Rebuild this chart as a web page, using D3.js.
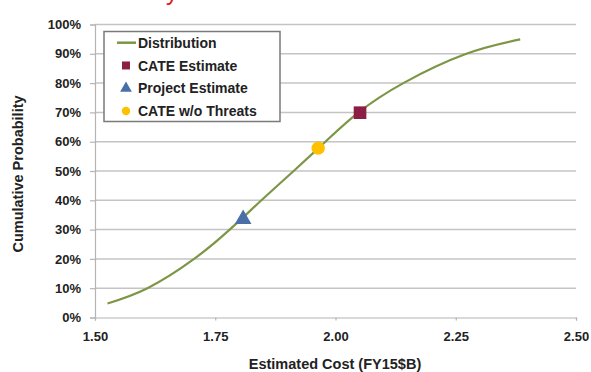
<!DOCTYPE html>
<html>
<head>
<meta charset="utf-8">
<script src="https://cdn.jsdelivr.net/npm/d3@7"></script>
<style>
  body { margin: 0; background: #fff; }
  svg { display: block; }
  text { font-family: "Liberation Sans", Arial, sans-serif; font-weight: bold; fill: #222; }
</style>
</head>
<body>
<div id="vis"><svg></svg></div>
<script>
// cumulative distribution (cost in FY15 $B, probability 0-1)
const distCost = [1.526, 1.609, 1.706, 1.780, 1.846, 1.913, 1.979, 2.048, 2.141, 2.272, 2.384];
const distProb = [0.048, 0.100, 0.200, 0.300, 0.400, 0.500, 0.600, 0.700, 0.800, 0.900, 0.949];

// point estimates
const estNames = ["CATE Estimate", "Project Estimate", "CATE w/o Threats"];
const estCost = [2.051, 1.808, 1.964];
const estProb = [0.699, 0.339, 0.578];

const xTicks = [1.50, 1.75, 2.00, 2.25, 2.50];
const yTicks = [0, 0.1, 0.2, 0.3, 0.4, 0.5, 0.6, 0.7, 0.8, 0.9, 1.0];
const legendLabels = ["Distribution", "CATE Estimate", "Project Estimate", "CATE w/o Threats"];

const w = 591, h = 372;
const margin = {top: 24.5, right: 15, bottom: 54.5, left: 95};
const width = w - margin.left - margin.right;
const height = h - margin.top - margin.bottom;

const lineColor = "#7d9646";
const markColor = {"CATE Estimate": "#8c1d45", "Project Estimate": "#4a6fa8", "CATE w/o Threats": "#ffc000"};
const markShape = {"CATE Estimate": d3.symbolSquare, "Project Estimate": d3.symbolTriangle, "CATE w/o Threats": d3.symbolCircle};

const svg = d3.select("#vis").select("svg")
  .attr("width", w)
  .attr("height", h);

// bit of a cut off red title at the top edge
svg.append("text")
  .attr("x", 166).attr("y", 0)
  .style("font-size", "24px")
  .style("font-weight", "normal")
  .style("fill", "#e0141e")
  .text("y");

const x = d3.scaleLinear().domain([1.5, 2.5]).range([0, width]);
const y = d3.scaleLinear().domain([0, 1]).range([height, 0]);

const g = svg.append("g")
  .attr("transform", `translate(${margin.left},${margin.top})`);

// gridlines
g.selectAll(".gridline")
  .data(yTicks.filter(d => d > 0))
  .enter().append("line")
    .attr("class", "gridline")
    .attr("x1", 0).attr("x2", width)
    .attr("y1", d => y(d)).attr("y2", d => y(d))
    .attr("stroke", "#c4c4c4")
    .attr("stroke-width", 1.5);

// y axis
const yAxis = g.append("g")
  .call(d3.axisLeft(y).tickValues(yTicks).tickFormat(d3.format(".0%")).tickSize(5).tickPadding(9));
yAxis.select(".domain").attr("stroke", "#b4b4b4").attr("stroke-width", 1.2);
yAxis.selectAll(".tick line").attr("stroke", "#b4b4b4").attr("stroke-width", 1.2);
yAxis.selectAll(".tick text")
  .style("font-size", "13px").style("font-family", "Liberation Sans, Arial, sans-serif")
  .style("font-weight", "bold").attr("fill", "#222");

// x axis
const xAxis = g.append("g")
  .attr("transform", `translate(0,${height})`)
  .call(d3.axisBottom(x).tickValues(xTicks).tickFormat(d3.format(".2f")).tickSizeOuter(0).tickSize(3).tickPadding(11));
xAxis.select(".domain").attr("stroke", "#b4b4b4").attr("stroke-width", 1.2);
xAxis.selectAll(".tick line").attr("stroke", "#b4b4b4").attr("stroke-width", 1.2);
xAxis.selectAll(".tick text")
  .style("font-size", "13px").style("font-family", "Liberation Sans, Arial, sans-serif")
  .style("font-weight", "bold").attr("fill", "#222");

// axis titles
svg.append("text")
  .attr("x", margin.left + x(1.5 + (2.5 - 1.5) / 2) - 0.5)
  .attr("y", 369)
  .attr("text-anchor", "middle")
  .style("font-size", "14.5px")
  .text("Estimated Cost (FY15$B)");

svg.append("text")
  .attr("transform", "translate(23,174) rotate(-90)")
  .attr("text-anchor", "middle")
  .style("font-size", "14.5px")
  .text("Cumulative Probability");

// distribution curve
const dist = distCost.map((c, i) => ({cost: c, prob: distProb[i]}));
const line = d3.line()
  .x(d => x(d.cost))
  .y(d => y(d.prob))
  .curve(d3.curveNatural);

g.append("path")
  .datum(dist)
  .attr("d", line)
  .attr("fill", "none")
  .attr("stroke", lineColor)
  .attr("stroke-width", 2.2);

// estimate markers
const ests = estNames.map((n, i) => ({name: n, cost: estCost[i], prob: estProb[i]}));
const markSize = {"CATE Estimate": 160, "Project Estimate": 120, "CATE w/o Threats": 140};
g.selectAll(".est")
  .data(ests)
  .enter().append("path")
    .attr("class", "est")
    .attr("transform", d => `translate(${x(d.cost)},${y(d.prob) + (d.name == "Project Estimate" ? 1 : 0)})`)
    .attr("d", d => d3.symbol().type(markShape[d.name]).size(markSize[d.name])())
    .attr("fill", d => markColor[d.name]);

// legend
const legend = svg.append("g").attr("transform", "translate(104,31.5)");
legend.append("rect")
  .attr("width", 176).attr("height", 90)
  .attr("fill", "#fff")
  .attr("stroke", "#7a7a7a")
  .attr("stroke-width", 1.5);

const rowY = d3.scalePoint().domain(legendLabels).range([11.2, 79.5]);
const rows = legend.selectAll(".legend-row")
  .data(legendLabels)
  .enter().append("g")
    .attr("class", "legend-row")
    .attr("transform", d => `translate(0,${rowY(d)})`);

rows.filter(d => d == "Distribution").append("line")
  .attr("x1", 13).attr("x2", 32)
  .attr("stroke", lineColor).attr("stroke-width", 2.5);

const legSize = {"CATE Estimate": 64, "Project Estimate": 60, "CATE w/o Threats": 56};
rows.filter(d => d != "Distribution").append("path")
  .attr("transform", "translate(22,0)")
  .attr("d", d => d3.symbol().type(markShape[d]).size(legSize[d])())
  .attr("fill", d => markColor[d]);

rows.append("text")
  .attr("x", 34)
  .attr("dy", "0.36em")
  .style("font-size", "14px")
  .text(d => d);
</script>
</body>
</html>
